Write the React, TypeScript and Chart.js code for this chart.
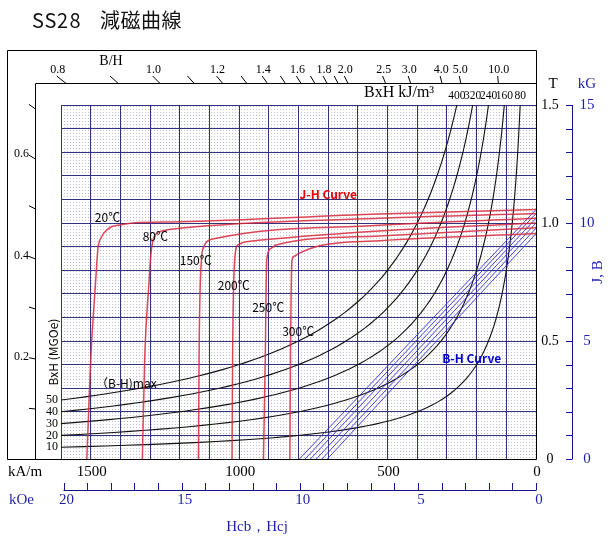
import React, { useEffect, useRef } from 'react';
import { Chart, registerables } from 'chart.js';
Chart.register(...registerables);

// ---------- data ----------
const TITLE_CODE = 'SS28';
const TITLE_JP = '減磁曲線';

const TEMPS = ['20℃', '80℃', '150℃', '200℃', '250℃', '300℃'];

// J-H curves: H in kA/m, J in T
const JH_H_20 = [0, 528, 1200, 1358, 1402, 1430, 1446, 1463, 1476, 1483, 1500, 1513];
const JH_J_20 = [1.057, 1.038, 1.005, 1.0, 0.992, 0.984, 0.970, 0.942, 0.886, 0.758, 0.419, 0];
const JH_H_80 = [0, 528, 1200, 1257, 1278, 1290, 1298, 1303, 1318, 1326];
const JH_J_80 = [1.04, 1.02, 0.978, 0.967, 0.956, 0.928, 0.857, 0.758, 0.428, 0];
const JH_H_150 = [0, 528, 1077, 1110, 1120, 1127, 1135, 1137];
const JH_J_150 = [1.02, 0.99, 0.935, 0.919, 0.895, 0.843, 0.428, 0];
const JH_H_200 = [0, 528, 976, 1004, 1015, 1022, 1024];
const JH_J_200 = [1.0, 0.966, 0.921, 0.907, 0.843, 0.428, 0];
const JH_H_250 = [0, 528, 875, 892, 907, 912, 918];
const JH_J_250 = [0.98, 0.945, 0.907, 0.893, 0.843, 0.428, 0];
const JH_H_300 = [0, 528, 729, 802, 813, 822, 827, 829];
const JH_J_300 = [0.955, 0.925, 0.904, 0.869, 0.860, 0.843, 0.428, 0];

// B-H lines: Br (T) at H=0 and Hcb (kA/m) at B=0
const BH_BR = [1.057, 1.04, 1.02, 1.0, 0.978, 0.955];
const BH_HCB = [797, 778, 760, 740, 721, 703];

// constant energy product curves
const ENERGY_KJ = [80, 160, 240, 320, 400];
const ENERGY_MGOE = ['10', '20', '30', '40', '50'];

// B/H (permeance) scale
const BH_TOP_MAJOR = [0.8, 1.0, 1.2, 1.4, 1.6, 1.8, 2.0, 2.5, 3.0, 4.0, 5.0, 10.0];
const BH_TOP_MINOR = [0.9, 1.1, 1.3, 1.5, 1.7, 1.9];
const BH_LEFT_MAJOR = [0.2, 0.4, 0.6];
const BH_LEFT_MINOR = [0.1, 0.3, 0.5, 0.7];

// axis tick labels
const KAM_LABELS = [1500, 1000, 500, 0];
const KOE_LABELS = [20, 15, 10, 5, 0];
const T_LABELS = [0, 0.5, 1.0, 1.5];
const KG_LABELS = [0, 5, 10, 15];

const KAM_PER_KOE = 79.5775;

// ---------- styles ----------
const SERIF = '"Liberation Serif", "Times New Roman", serif';
const SANS = '"Noto Sans CJK JP", "Noto Sans", sans-serif';
const BLUE_TXT = 'rgb(30,30,170)';
const BLUE_AX = 'rgb(20,20,140)';
const GRID = 'rgb(50,50,125)';
const RED = 'rgba(215,40,60,0.85)';
const BLUE_LINE = 'rgba(50,50,215,0.9)';

const zip = (xs: number[], ys: number[]) => xs.map((v, i) => ({ x: v, y: ys[i] }));

function hyperbola(E: number) {
  const hMin = E / 1.5;
  const pts: { x: number; y: number }[] = [];
  const N = 70;
  for (let i = 0; i < N; i++) {
    const h = hMin * Math.pow(1600 / hMin, i / (N - 1));
    pts.push({ x: h, y: E / h });
  }
  return pts;
}

function text(ctx: CanvasRenderingContext2D, s: string, x: number, y: number, font: string, color: string, align: CanvasTextAlign = 'left') {
  ctx.font = font;
  ctx.fillStyle = color;
  ctx.textAlign = align;
  ctx.textBaseline = 'middle';
  ctx.fillText(s, x, y);
}

const decor = {
  id: 'decor',
  beforeDraw(chart: any) {
    const { ctx, chartArea: a } = chart;
    ctx.save();
    ctx.fillStyle = '#fff';
    ctx.fillRect(0, 0, chart.width, chart.height);
    const pc = document.createElement('canvas');
    pc.width = 3; pc.height = 3;
    const p = pc.getContext('2d')!;
    p.fillStyle = '#fff'; p.fillRect(0, 0, 3, 3);
    p.fillStyle = 'rgb(192,192,208)'; p.fillRect(1, 1, 1, 1);
    ctx.fillStyle = ctx.createPattern(pc, 'repeat');
    ctx.fillRect(a.left, a.top, a.right - a.left, a.bottom - a.top);
    ctx.restore();
  },
  afterDraw(chart: any) {
    const { ctx } = chart;
    const x = chart.scales.x, y = chart.scales.y, xk = chart.scales.xk, yk = chart.scales.yk;
    ctx.save();

    // title
    ctx.font = `20px ${SANS}`;
    ctx.fillStyle = '#111';
    ctx.textBaseline = 'middle';
    ctx.textAlign = 'left';
    TITLE_CODE.split('').forEach((c, i) => ctx.fillText(c, 32 + i * 12.5, 20));
    TITLE_JP.split('').forEach((c, i) => ctx.fillText(c, 100 + i * 20.5, 20));

    // frames
    ctx.strokeStyle = '#000';
    ctx.lineWidth = 1;
    ctx.beginPath();
    ctx.rect(7.5, 50.5, 529, 409);
    ctx.moveTo(35.5, 459.5); ctx.lineTo(35.5, 83.5); ctx.lineTo(536.5, 83.5);
    ctx.stroke();

    // top B/H ticks
    const topY = 83.5, tickTopY = 76;
    const bTop = yk.getValueForPixel(topY), bTick = yk.getValueForPixel(tickTopY);
    ctx.beginPath();
    [...BH_TOP_MAJOR, ...BH_TOP_MINOR].forEach((p) => {
      ctx.moveTo(xk.getPixelForValue(bTick / p), tickTopY);
      ctx.lineTo(xk.getPixelForValue(bTop / p), topY);
    });
    ctx.stroke();
    BH_TOP_MAJOR.forEach((p) => {
      text(ctx, p.toFixed(1), xk.getPixelForValue(bTick / p) + 1, 70, `12px ${SERIF}`, '#000', 'center');
    });
    text(ctx, 'B/H', 111, 61, `14px ${SERIF}`, '#000', 'center');

    // left B/H ticks
    const leftX = 35.5, tickLeftX = 29;
    const hLeft = xk.getValueForPixel(leftX), hTick = xk.getValueForPixel(tickLeftX);
    ctx.beginPath();
    [...BH_LEFT_MAJOR, ...BH_LEFT_MINOR].forEach((p) => {
      ctx.moveTo(tickLeftX, yk.getPixelForValue(p * hTick));
      ctx.lineTo(leftX, yk.getPixelForValue(p * hLeft));
    });
    ctx.stroke();
    BH_LEFT_MAJOR.forEach((p) => {
      text(ctx, p.toFixed(1), 29, yk.getPixelForValue(p * hTick) - 1, `12px ${SERIF}`, '#000', 'right');
    });

    // energy labels
    text(ctx, 'BxH kJ/m³', 364, 93, `16px ${SERIF}`, '#000');
    ENERGY_KJ.forEach((E) => {
      text(ctx, String(E), x.getPixelForValue(E / 1.5), 96, `11.5px ${SERIF}`, '#000', 'center');
    });
    ENERGY_KJ.forEach((E, i) => {
      text(ctx, ENERGY_MGOE[i], 58, y.getPixelForValue(E / 1600), `12px ${SERIF}`, '#000', 'right');
    });
    ctx.save();
    ctx.translate(53.5, 352);
    ctx.rotate(-Math.PI / 2);
    text(ctx, 'BxH (MGOe)', 0, 0, `12px ${SANS}`, '#000', 'center');
    ctx.restore();
    text(ctx, '（B-H)max', x.getPixelForValue(1482), y.getPixelForValue(0.322), `12px ${SANS}`, '#000');

    // temperature labels
    const tPos = [[1486, 1.025], [1325, 0.942], [1200, 0.843], [1072, 0.737], [956, 0.641], [855, 0.539]];
    TEMPS.forEach((t, i) => {
      text(ctx, t, x.getPixelForValue(tPos[i][0]), y.getPixelForValue(tPos[i][1]), `12px ${SANS}`, '#000');
    });
    text(ctx, 'J-H Curve', x.getPixelForValue(797), y.getPixelForValue(1.119), `bold 12px ${SANS}`, 'rgb(230,0,0)');
    text(ctx, 'B-H Curve', x.getPixelForValue(316), y.getPixelForValue(0.428), `bold 12px ${SANS}`, 'rgb(0,0,210)');

    // bottom kA/m labels
    text(ctx, 'kA/m', 8, 472, `15px ${SERIF}`, '#000');
    KAM_LABELS.forEach((v) => text(ctx, String(v), x.getPixelForValue(v) + 1, 472, `15px ${SERIF}`, '#000', 'center'));

    // kOe axis
    const axY = 490.5;
    ctx.strokeStyle = BLUE_AX;
    ctx.beginPath();
    ctx.moveTo(xk.getPixelForValue(20), axY);
    ctx.lineTo(xk.getPixelForValue(0), axY);
    for (let k = 0; k <= 20; k++) {
      const px = Math.round(xk.getPixelForValue(k)) + 0.5;
      ctx.moveTo(px, axY); ctx.lineTo(px, 483);
    }
    ctx.stroke();
    text(ctx, 'kOe', 9, 500, `15px ${SERIF}`, BLUE_TXT);
    KOE_LABELS.forEach((v) => text(ctx, String(v), xk.getPixelForValue(v) + 3, 500, `15px ${SERIF}`, BLUE_TXT, 'center'));
    text(ctx, 'Hcb，Hcj', 257, 527, `15px ${SERIF}`, BLUE_TXT, 'center');

    // right T labels
    T_LABELS.forEach((v) => text(ctx, v === 0 ? '0' : v.toFixed(1), 550, y.getPixelForValue(v), `14px ${SERIF}`, '#000', 'center'));
    text(ctx, 'T', 553, 84, `15px ${SERIF}`, '#000', 'center');

    // kG axis
    const kx = 572.5;
    ctx.strokeStyle = BLUE_AX;
    ctx.beginPath();
    ctx.moveTo(kx, yk.getPixelForValue(0));
    ctx.lineTo(kx, yk.getPixelForValue(15));
    for (let k = 0; k <= 15; k++) {
      const py = Math.round(yk.getPixelForValue(k)) + 0.5;
      ctx.moveTo(566, py); ctx.lineTo(kx, py);
    }
    ctx.stroke();
    KG_LABELS.forEach((v) => text(ctx, String(v), 587, yk.getPixelForValue(v), `15px ${SERIF}`, BLUE_TXT, 'center'));
    text(ctx, 'kG', 587, 84, `15px ${SERIF}`, BLUE_TXT, 'center');
    ctx.save();
    ctx.translate(598, 272);
    ctx.rotate(-Math.PI / 2);
    text(ctx, 'J, B', 0, 0, `15px ${SERIF}`, BLUE_TXT, 'center');
    ctx.restore();

    ctx.restore();
  },
};

function buildDatasets() {
  const jh = [
    zip(JH_H_20, JH_J_20), zip(JH_H_80, JH_J_80), zip(JH_H_150, JH_J_150),
    zip(JH_H_200, JH_J_200), zip(JH_H_250, JH_J_250), zip(JH_H_300, JH_J_300),
  ];
  const red = jh.map((d, i) => ({
    label: 'J-H ' + TEMPS[i], data: d, borderColor: RED, borderWidth: 1.5,
    pointRadius: 0, fill: false, cubicInterpolationMode: 'monotone' as const,
  }));
  const blue = BH_BR.map((br, i) => ({
    label: 'B-H ' + TEMPS[i], data: [{ x: 0, y: br }, { x: BH_HCB[i], y: 0 }],
    borderColor: BLUE_LINE, borderWidth: 1, pointRadius: 0, fill: false, tension: 0,
  }));
  const black = ENERGY_KJ.map((E) => ({
    label: 'BH ' + E, data: hyperbola(E), borderColor: '#111', borderWidth: 1.1,
    pointRadius: 0, fill: false, tension: 0,
  }));
  return [...red, ...blue, ...black];
}

export default function App() {
  const ref = useRef<HTMLCanvasElement>(null);
  useEffect(() => {
    const chart = new Chart(ref.current!, {
      type: 'line',
      data: { datasets: buildDatasets() as any },
      options: {
        animation: false,
        responsive: false,
        devicePixelRatio: 1,
        events: [],
        layout: { padding: { left: 61, right: 74, top: 105, bottom: 85 } },
        plugins: { legend: { display: false }, tooltip: { enabled: false }, title: { display: false } },
        elements: { point: { radius: 0 } },
        scales: {
          x: {
            type: 'linear', position: 'bottom', reverse: true, min: 0, max: 1600,
            ticks: { display: false, stepSize: 100, maxTicksLimit: 100 },
            grid: { color: GRID, lineWidth: 1, drawTicks: false },
            border: { display: false },
          },
          y: {
            type: 'linear', position: 'right', min: 0, max: 1.5,
            ticks: { display: false, stepSize: 0.1, maxTicksLimit: 100 },
            grid: { color: GRID, lineWidth: 1, drawTicks: false },
            border: { display: false },
          },
          xk: { type: 'linear', position: 'bottom', reverse: true, min: 0, max: 1600 / KAM_PER_KOE, display: false },
          yk: { type: 'linear', position: 'right', min: 0, max: 15, display: false },
        },
      } as any,
      plugins: [decor],
    });
    return () => chart.destroy();
  }, []);
  return (
    <div style={{ position: 'absolute', left: 0, top: 0, width: 610, height: 544, background: '#fff' }}>
      <canvas ref={ref} width={610} height={544} style={{ display: 'block', width: 610, height: 544 }} />
    </div>
  );
}
